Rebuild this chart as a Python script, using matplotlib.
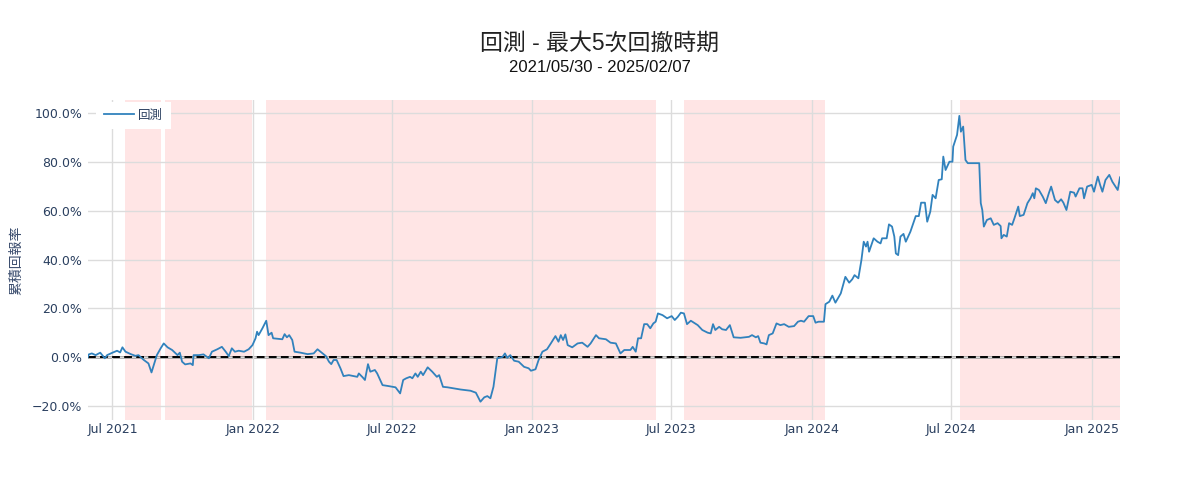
import numpy as np
import pandas as pd
import matplotlib
matplotlib.use("Agg")
import matplotlib.pyplot as plt
import matplotlib.dates as mdates
from matplotlib.ticker import FuncFormatter

START = "2021-05-30"
END = "2025-02-07"

# calendar days since START
day_offsets = [
    0, 1, 5, 10, 16, 22, 25, 32, 38, 42, 45, 49, 56, 62, 66, 73, 79, 83, 86, 90,
    95, 99, 104, 110, 117, 120, 123, 127, 134, 137, 138, 145, 151, 158, 162, 169,
    175, 180, 184, 188, 192, 197, 204, 210, 215, 219, 221, 223, 228, 233, 236, 240,
    242, 254, 257, 260, 263, 267, 270, 278, 287, 295, 300, 304, 311, 315, 318, 321,
    325, 330, 334, 341, 352, 354, 359, 362, 366, 369, 375, 378, 385, 393, 402, 408,
    412, 416, 421, 424, 428, 431, 435, 438, 444, 450, 456, 459, 464, 470, 487, 500,
    507, 513, 518, 522, 526, 530, 533, 535, 542, 545, 548, 552, 557, 563, 570, 576,
    579, 585, 589, 594, 600, 605, 611, 615, 618, 621, 624, 627, 633, 640, 646, 653,
    657, 664, 668, 677, 683, 690, 696, 701, 709, 712, 716, 719, 723, 727, 731, 735,
    739, 742, 745, 751, 757, 763, 767, 771, 775, 779, 783, 788, 792, 797, 803, 810,
    814, 817, 820, 825, 829, 834, 839, 844, 853, 864, 868, 873, 876, 879, 884, 887,
    890, 895, 900, 905, 910, 916, 923, 928, 932, 936, 942, 948, 951, 955, 962, 964,
    969, 973, 977, 984, 990, 995, 999, 1002, 1007, 1011, 1014, 1017, 1019, 1021,
    1027, 1032, 1036, 1038, 1044, 1047, 1051, 1054, 1056, 1059, 1062, 1066, 1069,
    1075, 1082, 1086, 1089, 1094, 1097, 1101, 1104, 1108, 1112, 1116, 1118, 1121,
    1126, 1130, 1131, 1136, 1139, 1141, 1144, 1147, 1150, 1165, 1167, 1169, 1171,
    1175, 1180, 1184, 1189, 1193, 1194, 1197, 1201, 1204, 1208, 1211, 1216, 1218,
    1223, 1228, 1232, 1235, 1237, 1239, 1243, 1248, 1252, 1256, 1259, 1264, 1268,
    1272, 1275, 1279, 1284, 1289, 1291, 1296, 1300, 1302, 1306, 1312, 1315, 1320,
    1323, 1326, 1330, 1335, 1339, 1346, 1349,
]

# cumulative return in percent
cum_return = [
    0.0, 1.1, 1.5, 0.8, 1.8, -0.5, 0.8, 1.8, 2.6, 1.9, 4.0, 2.2, 1.2, 0.5, 0.8, -1.2, -2.6, -6.3, -3.3, 0.8,
    3.6, 5.6, 4.0, 2.9, 0.8, 1.8, -1.9, -3.0, -2.6, -3.3, 0.8, 0.8, 1.1, -0.5, 2.2, 3.2,
    4.2, 2.2, 0.4, 3.6, 2.2, 2.6, 2.2, 3.2, 4.9, 7.7, 10.4, 9.0, 11.8, 14.9, 9.0, 10.0,
    7.7, 7.3, 9.4, 8.1, 9.0, 7.0, 2.2, 1.8, 1.2, 1.5, 3.2, 2.2, 0.4, -1.9, -2.9, -1.2,
    -1.2, -4.6, -7.8, -7.4, -8.1, -6.7, -8.3, -9.4, -2.9, -6.0, -5.3, -6.7, -11.5, -11.9, -12.4, -14.9,
    -9.4, -8.7, -8.1, -8.7, -6.7, -8.1, -6.0, -7.4, -4.2, -6.0, -8.1, -7.4, -12.2, -12.4, -13.3, -13.8,
    -14.6, -18.3, -16.5, -16.0, -16.9, -12.2, -5.3, -0.5, 0.1, 1.5, -0.3, 0.8, -1.5, -1.9, -4.0, -4.6,
    -5.6, -5.0, -1.2, 2.2, 3.2, 5.6, 8.6, 6.3, 9.0, 7.0, 9.3, 4.9, 4.0, 5.6, 5.9, 4.2,
    5.6, 9.0, 7.7, 7.3, 5.9, 5.6, 1.5, 2.9, 2.9, 4.2, 2.2, 7.7, 7.7, 13.5, 13.5, 11.8,
    13.8, 14.5, 17.9, 17.2, 15.9, 16.8, 15.2, 16.5, 18.2, 17.9, 13.5, 14.9, 14.1, 13.1, 11.1, 10.0,
    9.7, 13.5, 11.1, 12.4, 11.4, 11.1, 13.1, 8.1, 7.9, 8.3, 9.0, 8.1, 8.6, 5.9, 5.6, 5.2,
    9.0, 9.7, 13.8, 13.1, 13.5, 12.4, 12.7, 14.5, 14.9, 14.5, 16.8, 16.8, 14.1, 14.5, 14.5, 21.7,
    22.7, 25.2, 22.3, 26.1, 32.9, 30.5, 31.9, 33.6, 32.3, 39.8, 47.3, 45.3, 47.3, 43.2,
    48.7, 47.3, 46.6, 48.7, 48.7, 54.4, 53.5, 49.4, 42.5, 41.8, 49.4, 50.5, 47.3,
    51.4, 57.8, 57.8, 63.3, 63.3, 55.5, 59.6, 66.5, 65.1, 72.6, 72.9, 82.2, 76.7,
    80.1, 80.1, 86.3, 91.1, 98.9, 92.4, 94.5, 80.8, 79.5, 79.5, 63.1, 60.3, 53.5,
    56.2, 56.9, 54.2, 54.9, 53.7, 48.7, 50.1, 49.4, 54.9, 54.2, 56.9, 61.7, 57.8,
    58.3, 63.1, 65.1, 67.2, 65.1, 69.2, 68.5, 65.8, 63.1, 67.2, 69.9, 64.4, 63.3,
    64.7, 63.3, 60.3, 67.8, 67.4, 65.8, 69.2, 69.2, 65.1, 69.9, 70.6, 67.8, 74.0,
    70.6, 67.8, 72.6, 74.7, 71.9, 68.5, 73.7,
]

# five largest drawdown periods
dd_starts = ["2021-07-17", "2021-09-08", "2022-01-18", "2023-07-18", "2024-07-13"]
dd_ends = ["2021-09-03", "2021-12-31", "2023-06-12", "2024-01-18", "2025-02-07"]

dates = pd.Timestamp(START) + pd.to_timedelta(day_offsets, unit="D")

TICK_COLOR = "#2a3f5f"
CJK = ["Liberation Sans", "Noto Sans CJK TC", "DejaVu Sans"]

fig = plt.figure(figsize=(12, 5), dpi=100)
ax = fig.add_axes([88 / 1200, 80 / 500, 1032 / 1200, 320 / 500])

for s, e in zip(dd_starts, dd_ends):
    ax.axvspan(pd.Timestamp(s), pd.Timestamp(e), color="#ffe5e5", lw=0, zorder=0)

ax.grid(True, color="#dcdcdc", lw=1, zorder=1)
ax.set_axisbelow(False)

ax.axhline(0, color="#8a8a8a", lw=1.8, zorder=2)
ax.axhline(0, color="black", lw=1.4, dashes=(4, 2.2), zorder=3)

ax.plot(dates, cum_return, color="#3182bd", lw=1.3, label="回測", zorder=4)

ax.set_xlim(pd.Timestamp(START), pd.Timestamp(END))
ax.set_ylim(-25.8, 105.4)
ax.set_yticks([-20, 0, 20, 40, 60, 80, 100])
ax.yaxis.set_major_formatter(FuncFormatter(lambda v, p: f"{v:.1f}%".replace("-", "\u2212")))
ax.xaxis.set_major_locator(mdates.MonthLocator(bymonth=[1, 7]))
ax.xaxis.set_major_formatter(mdates.DateFormatter("%b %Y"))

for sp in ax.spines.values():
    sp.set_visible(False)
ax.tick_params(length=0, labelsize=9, colors=TICK_COLOR, pad=4)
ax.tick_params(axis="x", pad=2)

ax.set_ylabel("累積回報率", family=["Noto Sans CJK TC"], fontsize=10, color="#3b4d6e",
              fontweight="light")
ax.yaxis.set_label_coords(-0.063, 0.5)

leg = ax.legend(loc="upper left", bbox_to_anchor=(0.008, 0.993), frameon=True, fancybox=False,
                framealpha=1, edgecolor="none", facecolor="white", prop={"family": CJK, "size": 9},
                handlelength=2.4, handletextpad=0.35, borderpad=0.6, borderaxespad=0.0)
for t in leg.get_texts():
    t.set_color(TICK_COLOR)

fig.text(0.5, 0.914, "回測 - 最大5次回撤時期", ha="center", va="center", fontsize=16.5,
         family=CJK, color="#222222")
fig.text(0.5, 0.864, "2021/05/30 - 2025/02/07", ha="center", va="center", fontsize=12,
         family=CJK, color="#111111")

fig.savefig("out.png", dpi=100)
